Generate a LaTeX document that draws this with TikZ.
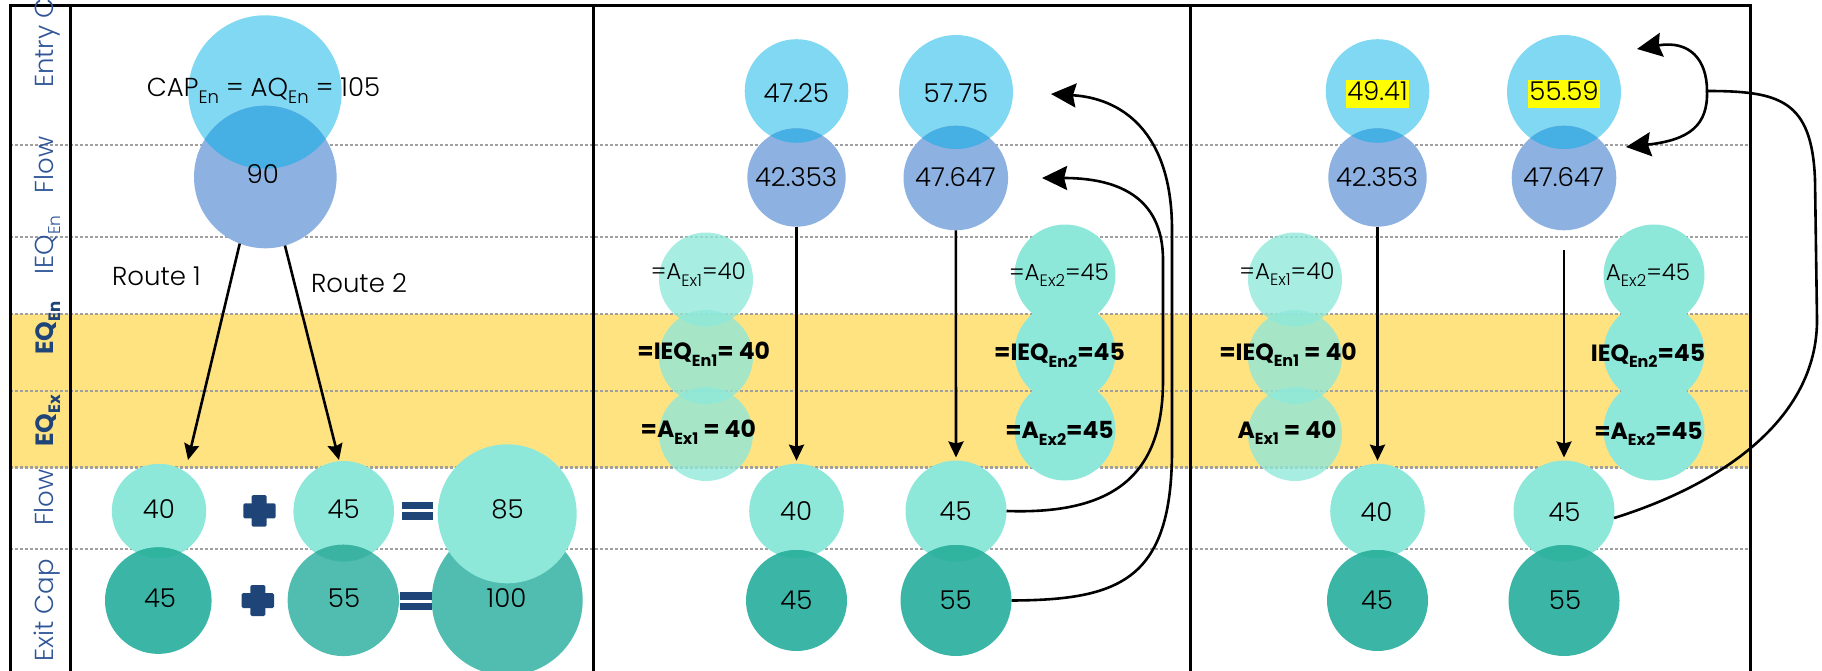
\documentclass[tikz,border=0pt]{standalone}
\usepackage{fontspec}
\setmainfont{Poppins}
\newfontfamily\lightfont{Poppins Light}
\usetikzlibrary{arrows.meta}

% palette
\definecolor{entryblue}{HTML}{81D8F3}
\definecolor{flowblue}{HTML}{8DB1E1}
\definecolor{lensblue}{HTML}{46AFE3}
\definecolor{tealL}{HTML}{8EE8DA}
\definecolor{tealD}{HTML}{3AB5A6}
\definecolor{tealM}{HTML}{50BDB0}
\definecolor{lensteal}{HTML}{30B4A0}
\definecolor{lenstealb}{HTML}{3BB3A3}
\definecolor{band}{HTML}{FFE381}
\definecolor{gridgray}{HTML}{A0A0A0}
\definecolor{labelblue}{HTML}{2F5597}
\definecolor{navy}{HTML}{1F4477}
\definecolor{markyellow}{HTML}{FFFF00}

% lowered index text: size, text
\newcommand\lo[2]{\raisebox{-6.8pt}{\fontsize{#1}{#1}\selectfont #2}}
% bubble: name, x, y, radius, fill options
\newcommand\bub[5]{\node[bub,minimum size={2*#4pt},fill=#5] (#1) at (#2,#3) {};}
% overlap of two bubbles: x1,y1,r1, x2,y2,r2, colour
\newcommand\lens[7]{\begin{scope}\clip (#1,#2) circle[radius=#3pt];\fill[#7] (#4,#5) circle[radius=#6pt];\end{scope}}

\begin{document}
\begin{tikzpicture}[x=1pt,y=-1pt,
  bub/.style={circle,inner sep=0pt,outer sep=0pt,draw=none},
  num/.style={anchor=base,inner sep=0pt,font=\lightfont\fontsize{26}{30}\selectfont},
  lab/.style={anchor=base,inner sep=0pt,font=\lightfont\fontsize{23}{27}\selectfont},
  blab/.style={anchor=base,inner sep=0pt,font=\bfseries\fontsize{23.5}{27}\selectfont},
  rowlab/.style={rotate=90,anchor=base,inner sep=0pt,text=labelblue,font=\lightfont\fontsize{26}{30}\selectfont},
  browlab/.style={rotate=90,anchor=base,inner sep=0pt,text=navy,font=\bfseries\fontsize{25}{30}\selectfont},
  hilite/.style={num,fill=markyellow,inner xsep=1pt,inner ysep=0pt,text height=21pt,text depth=7pt},
  grid/.style={gridgray,line width=2.5pt,dash pattern=on 2.5pt off 2.5pt},
  frame/.style={black,line width=3pt},
  arr/.style={black,line width=2.6pt,-{Stealth[length=16pt,width=15pt,inset=2pt]}},
  bigarr/.style={black,line width=2.6pt,-{Stealth[length=25pt,width=24pt,inset=3pt]}},
  link/.style={black,line width=2.6pt}]

\useasboundingbox (0,0) rectangle (1822,671);
\clip (0,0) rectangle (1822,671);

% equilibrium band and row separators
\fill[band] (10,314) rectangle (1750,467.5);
\foreach \yy in {145,237,314,391,467.5,549}
  \draw[grid] (10,\yy) -- (1750,\yy);

% ---------- panel 1 ----------
\bub{p1en}{265}{92}{76.7}{entryblue}
\bub{p1fl}{265.3}{177}{71.3}{flowblue}
\lens{265}{92}{76.7}{265.3}{177}{71.3}{lensblue}
\bub{p1f1}{159}{511}{47.2}{tealL}
\bub{p1x1}{158.3}{600.6}{53.3}{tealD}
\lens{159}{511}{47.2}{158.3}{600.6}{53.3}{lensteal}
\bub{p1f2}{343.7}{511.3}{50.3}{tealL}
\bub{p1x2}{343.3}{600.4}{55.7}{tealM}
\lens{343.7}{511.3}{50.3}{343.3}{600.4}{55.7}{lenstealb}
\bub{p1xs}{507.2}{600}{75.5}{tealM}
\bub{p1fs}{507.2}{513.8}{69.5}{tealL}

% plus and equal signs
\fill[navy,rounded corners=1.5pt] (243.3,503.3) rectangle (275.7,518.3);
\fill[navy,rounded corners=1.5pt] (251.7,495) rectangle (266.7,526.7);
\fill[navy,rounded corners=1.5pt] (241.7,593) rectangle (274,608);
\fill[navy,rounded corners=1.5pt] (250.3,585) rectangle (265.3,616);
\fill[navy] (401.7,501.7) rectangle (433.3,509.3);
\fill[navy] (401.7,511.7) rectangle (433.3,520);
\fill[navy] (400,591.7) rectangle (431.7,600);
\fill[navy] (400,602.7) rectangle (431.7,610);

% ---------- panel 2 ----------
\bub{p2e1}{796.5}{91}{51.8}{entryblue}
\bub{p2e2}{956}{92}{57}{entryblue}
\bub{p2f1}{796.5}{177.5}{49.2}{flowblue}
\bub{p2f2}{955.8}{178}{52.3}{flowblue}
\lens{796.5}{91}{51.8}{796.5}{177.5}{49.2}{lensblue}
\lens{956}{92}{57}{955.8}{178}{52.3}{lensblue}
\bub{p2a1}{706}{279.5}{47}{tealL,fill opacity=0.78}
\bub{p2b1}{706}{357}{47}{tealL,fill opacity=0.78}
\bub{p2c1}{706}{434}{47}{tealL,fill opacity=0.78}
\bub{p2a2}{1065}{275}{50.5}{tealL}
\bub{p2b2}{1065}{352.5}{50.5}{tealL}
\bub{p2c2}{1065}{430}{50.5}{tealL}
\bub{p2g1}{796.5}{511}{47.3}{tealL}
\bub{p2x1}{796.5}{600.5}{50.5}{tealD}
\lens{796.5}{511}{47.3}{796.5}{600.5}{50.5}{lensteal}
\bub{p2g2}{956}{511}{50.5}{tealL}
\bub{p2x2}{956}{600.5}{55.5}{tealD}
\lens{956}{511}{50.5}{956}{600.5}{55.5}{lensteal}

% ---------- panel 3 ----------
\bub{p3e1}{1377.5}{91}{51.8}{entryblue}
\bub{p3e2}{1564}{92}{57}{entryblue}
\bub{p3f1}{1377.5}{177.5}{49.2}{flowblue}
\bub{p3f2}{1564}{178}{52.3}{flowblue}
\lens{1377.5}{91}{51.8}{1377.5}{177.5}{49.2}{lensblue}
\lens{1564}{92}{57}{1564}{178}{52.3}{lensblue}
\bub{p3a1}{1295}{279.5}{47}{tealL,fill opacity=0.78}
\bub{p3b1}{1295}{357}{47}{tealL,fill opacity=0.78}
\bub{p3c1}{1295}{434}{47}{tealL,fill opacity=0.78}
\bub{p3a2}{1654}{275}{50.5}{tealL}
\bub{p3b2}{1654}{352.5}{50.5}{tealL}
\bub{p3c2}{1654}{430}{50.5}{tealL}
\bub{p3g1}{1377.5}{511}{47.3}{tealL}
\bub{p3x1}{1377.5}{600.5}{50.5}{tealD}
\lens{1377.5}{511}{47.3}{1377.5}{600.5}{50.5}{lensteal}
\bub{p3g2}{1564}{511}{50.5}{tealL}
\bub{p3x2}{1564}{600.5}{55.5}{tealD}
\lens{1564}{511}{50.5}{1564}{600.5}{55.5}{lensteal}

% ---------- frame ----------
\draw[frame] (10,671) -- (10,6) -- (1750,6) -- (1750,671);
\foreach \xx in {70,593.5,1190}
  \draw[frame] (\xx,6) -- (\xx,671);

% ---------- connectors ----------
\coordinate (p1t1) at (188,460);
\coordinate (p1t2) at (339,460);
\draw[arr] (p1fl.249) -- (p1t1);
\draw[arr] (p1fl.286) -- (p1t2);

\draw[arr,shorten >=3pt] (p2f1.south) -- (p2g1.north);
\draw[arr,shorten >=3pt] (p2f2.south) -- (p2g2.north);
\draw[bigarr] (p2g2.east) .. controls (1120,515) and (1163,470) .. (1163,380)
  -- (1163,260) .. controls (1163,195) and (1115,178) .. ([xshift=34pt]p2f2.east);
\draw[bigarr] (p2x2.east) .. controls (1120,600) and (1172,580) .. (1172,450)
  -- (1172,230) .. controls (1172,130) and (1120,98) .. ([xshift=38pt,yshift=-2pt]p2e2.east);

\draw[arr,shorten >=3pt] (p3f1.south) -- (p3g1.north);
\draw[arr,shorten <=20pt,shorten >=3pt] (p3f2.south) -- (p3g2.north);
\coordinate (p3j) at (1707,91);
\coordinate (p3t1) at (1637,49);
\coordinate (p3t2) at (1626,147);
\draw[link] (p3g2.-8) .. controls (1720,485) and (1817,420) .. (1817,320)
  -- (1815,180) .. controls (1812,100) and (1780,91) .. (p3j);
\draw[bigarr] (p3j) .. controls (1707,60) and (1690,40) .. (p3t1);
\draw[bigarr] (p3j) .. controls (1708,125) and (1690,140) .. (p3t2);

% ---------- row labels ----------
\node[rowlab,anchor=base west] (rEntry) at (53.3,88) {Entry Cap};
\node[rowlab] (rFlowIn) at (53.3,165) {Flow};
\node[rowlab] (rIEQ) at (53.3,245) {IEQ\lo{17}{En}};
\node[browlab] (rEQEn) at (53.3,328.3) {EQ\lo{16.5}{En}};
\node[browlab] (rEQEx) at (53.3,421) {EQ\lo{16.5}{Ex}};
\node[rowlab] (rFlowOut) at (53.3,497.5) {Flow};
\node[rowlab] (rExit) at (53.3,610.5) {Exit Cap};

% ---------- panel 1 texts ----------
\node[num] (p1cap) at (263.5,96.7) {CAP\lo{18}{En} = AQ\lo{18}{En} = 105};
\node[num] (p1n90) at (262.7,184) {90};
\node[num] (p1r1) at (156.5,285) {Route 1};
\node[num] (p1r2) at (359,292) {Route 2};
\node[num] (p1n40) at (158.8,518.3) {40};
\node[num] (p1n45) at (343.7,518.3) {45};
\node[num] (p1n85) at (507.5,518.3) {85};
\node[num] (p1c45) at (160,607.3) {45};
\node[num] (p1c55) at (344,607.3) {55};
\node[num] (p1c100) at (506.5,607.3) {100};

% ---------- panel 2 texts ----------
\node[num] (p2te1) at (796.3,102.7) {47.25};
\node[num] (p2te2) at (956,102.7) {57.75};
\node[num] (p2tf1) at (796,186.7) {42.353};
\node[num] (p2tf2) at (955.5,186.7) {47.647};
\node[lab] (p2ta1) at (698.3,279.3) {=A\lo{16.5}{Ex1}=40};
\node[lab] (p2ta2) at (1059,280) {=A\lo{16.5}{Ex2}=45};
\node[blab] (p2tb1) at (703.7,359.3) {=IEQ\lo{16}{En1}= 40};
\node[blab] (p2tb2) at (1059.5,360.5) {=IEQ\lo{16}{En2}=45};
\node[blab] (p2tc1) at (698.3,437.3) {=A\lo{16}{Ex1} = 40};
\node[blab] (p2tc2) at (1059.5,438.5) {=A\lo{16}{Ex2}=45};
\node[num] (p2tg1) at (796.2,520.5) {40};
\node[num] (p2tg2) at (955.6,520.5) {45};
\node[num] (p2tx1) at (796.3,609) {45};
\node[num] (p2tx2) at (955.7,609) {55};

% ---------- panel 3 texts ----------
\node[hilite] (p3te1) at (1377.5,101) {49.41};
\node[hilite] (p3te2) at (1564,101) {55.59};
\node[num] (p3tf1) at (1377,186.5) {42.353};
\node[num] (p3tf2) at (1563.5,186.5) {47.647};
\node[lab] (p3ta1) at (1287,279) {=A\lo{16.5}{Ex1}=40};
\node[lab] (p3ta2) at (1648,280) {A\lo{16.5}{Ex2}=45};
\node[blab] (p3tb1) at (1288,360) {=IEQ\lo{16}{En1} = 40};
\node[blab] (p3tb2) at (1648,361) {IEQ\lo{16}{En2}=45};
\node[blab] (p3tc1) at (1287,438) {A\lo{16}{Ex1} = 40};
\node[blab] (p3tc2) at (1648.5,439) {=A\lo{16}{Ex2}=45};
\node[num] (p3tg1) at (1376.5,521) {40};
\node[num] (p3tg2) at (1564.5,521) {45};
\node[num] (p3tx1) at (1377,609) {45};
\node[num] (p3tx2) at (1565,609) {55};
\end{tikzpicture}
\end{document}
